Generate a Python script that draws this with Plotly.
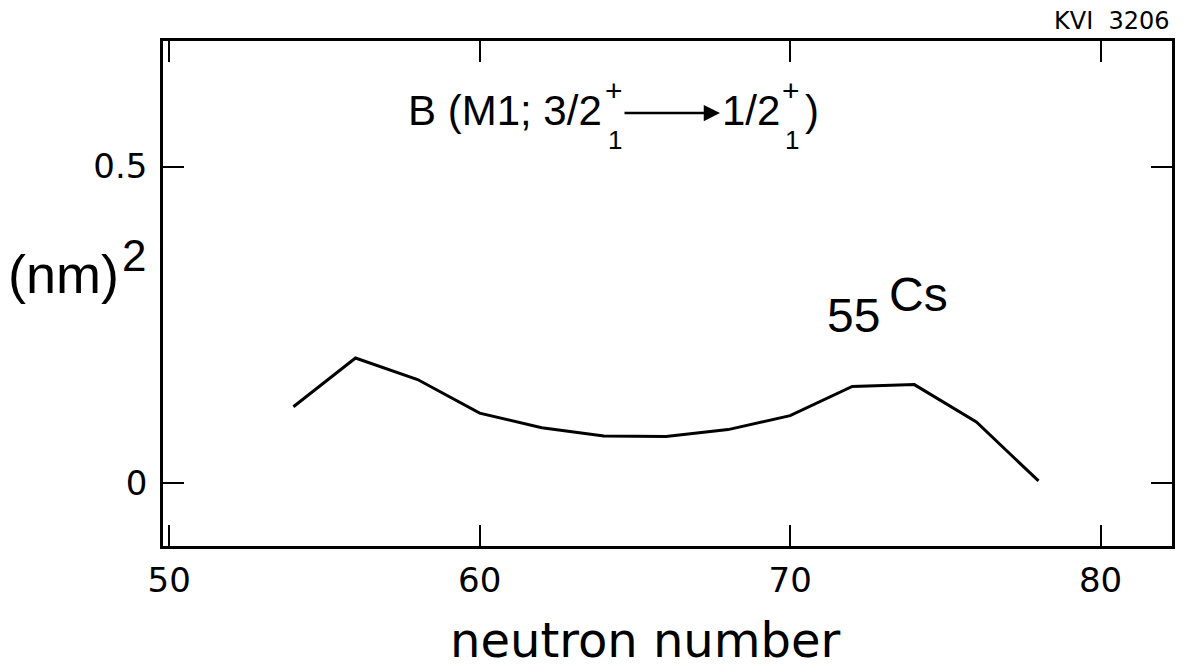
import plotly.graph_objects as go

# ---- data ----
neutron_number = [54, 56, 58, 60, 62, 64, 66, 68, 70, 72, 74, 76, 78]
b_m1 = [0.121, 0.198, 0.164, 0.111, 0.088, 0.075, 0.074, 0.085, 0.107, 0.153, 0.156, 0.097, 0.004]
x_ticks = [50, 60, 70, 80]
x_tick_labels = ["50", "60", "70", "80"]
y_ticks = [0, 0.5]
y_tick_labels = ["0", "0.5"]

W, H = 1186, 668
L, R, T, B = 163, 14, 41, 122
FONT = "Liberation Sans"
WIDE = "DejaVu Sans"


def px(x):
    return (x - L) / (W - L - R)


def py(y):
    return (H - B - y) / (H - T - B)


fig = go.Figure()
fig.add_trace(go.Scatter(x=neutron_number, y=b_m1, mode="lines",
                         line=dict(color="black", width=3), showlegend=False))

axis_common = dict(showline=True, linecolor="black", linewidth=2.5, mirror="ticks",
                   ticks="inside", tickcolor="black", tickwidth=2, showgrid=False,
                   zeroline=False, tickfont=dict(family=WIDE, size=34, color="black"))

fig.update_xaxes(range=[49.8, 82.3], tickvals=x_ticks, ticktext=x_tick_labels,
                 ticklen=21, ticklabelstandoff=2, **axis_common)
fig.update_yaxes(range=[-0.0986, 0.698], tickvals=y_ticks, ticktext=y_tick_labels,
                 ticklen=21, ticklabelstandoff=6, **axis_common)

ann = []


def text(t, x, y, size, xanchor="center", yanchor="middle", family=FONT):
    ann.append(dict(text=t, x=px(x), y=py(y), xref="paper", yref="paper",
                    showarrow=False, xanchor=xanchor, yanchor=yanchor,
                    font=dict(family=family, size=size, color="black")))


# title pieces
text("B (M1; 3/2", 604, 110, 42, xanchor="right")
text("+", 614, 91, 30)
text("1", 615, 140, 26)
text("1/2", 720, 110, 42, xanchor="left")
text("+", 791, 91, 30)
text("1", 792, 140, 26)
text(")", 803, 110, 42, xanchor="left")
ann.append(dict(x=px(720), y=py(113), xref="paper", yref="paper",
                ax=-97, ay=0, axref="pixel", ayref="pixel", text="",
                showarrow=True, arrowhead=2, arrowsize=1.3, arrowwidth=2.5,
                arrowcolor="black"))

# element label
text("55", 853, 315, 48)
text("Cs", 918, 294, 48)

# y axis title
text("(nm)", 63, 274, 54)
text("2", 134, 255, 44)

# x axis title
text("neutron number", 645, 640, 48, family=WIDE)

# figure id
text("KVI&nbsp;&nbsp;3206", 1172, 21, 24, xanchor="right", family=WIDE)

fig.update_layout(width=W, height=H, margin=dict(l=L, r=R, t=T, b=B),
                  paper_bgcolor="white", plot_bgcolor="white",
                  annotations=ann, showlegend=False)

fig.write_html("out.html")
